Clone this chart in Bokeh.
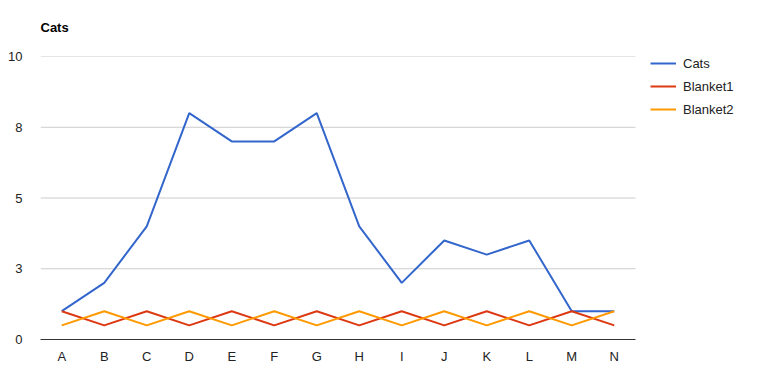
from bokeh.plotting import figure
from bokeh.models import FixedTicker, Legend, LegendItem, Range1d
from bokeh.embed import file_html
from bokeh.resources import INLINE

categories = ["A", "B", "C", "D", "E", "F", "G", "H", "I", "J", "K", "L", "M", "N"]
cats = [1, 2, 4, 8, 7, 7, 8, 4, 2, 3.5, 3, 3.5, 1, 1]
blanket1 = [1, 0.5, 1, 0.5, 1, 0.5, 1, 0.5, 1, 0.5, 1, 0.5, 1, 0.5]
blanket2 = [0.5, 1, 0.5, 1, 0.5, 1, 0.5, 1, 0.5, 1, 0.5, 1, 0.5, 1]
y_ticks = [0, 2.5, 5, 7.5, 10]
y_tick_labels = ["0", "3", "5", "8", "10"]

FONT = "Liberation Sans"
W, H = 764, 390
LEFT, TOP, BOTTOM = 40, 56, 51
PLOT_W = 595  # width of the chart area (gridlines)

n = len(categories)
xs = list(range(n))
frame_w = W - LEFT
x_end = -0.5 + n * frame_w / PLOT_W

p = figure(width=W, height=H, x_range=Range1d(-0.5, x_end), y_range=(0, 10),
           output_backend="svg", toolbar_location=None, title="Cats",
           min_border_left=LEFT, min_border_right=0, min_border_top=TOP,
           min_border_bottom=BOTTOM)
p.outline_line_color = None
p.background_fill_color = "white"
p.border_fill_color = "white"

p.title.text_font = FONT
p.title.text_font_size = "13px"
p.title.text_font_style = "bold"
p.title.text_color = "#000000"
p.title.align = "left"
p.title.vertical_align = "top"
p.title.standoff = 39
p.title.offset = 0

p.xgrid.grid_line_color = None
p.ygrid.grid_line_color = None

# horizontal gridlines limited to the chart area
grid_vals = [t for t in y_ticks if t != 0]
p.segment(x0=[-0.5] * len(grid_vals), x1=[n - 0.5] * len(grid_vals),
          y0=grid_vals, y1=grid_vals, line_color="#cccccc", line_width=1)

p.yaxis.ticker = FixedTicker(ticks=y_ticks)
p.yaxis.major_label_overrides = {t: l for t, l in zip(y_ticks, y_tick_labels)}
p.yaxis.axis_line_color = None
p.yaxis.major_tick_line_color = None
p.yaxis.minor_tick_line_color = None
p.yaxis.major_label_standoff = 12
p.yaxis.major_label_text_font = FONT
p.yaxis.major_label_text_font_size = "13px"
p.yaxis.major_label_text_color = "#222222"

p.xaxis.ticker = FixedTicker(ticks=xs)
p.xaxis.major_label_overrides = {i: c for i, c in zip(xs, categories)}
p.xaxis.bounds = (-0.5, n - 0.5)
p.xaxis.axis_line_color = "#333333"
p.xaxis.axis_line_width = 1
p.xaxis.major_tick_line_color = None
p.xaxis.minor_tick_line_color = None
p.xaxis.major_label_standoff = 3
p.xaxis.major_label_text_font = FONT
p.xaxis.major_label_text_font_size = "13px"
p.xaxis.major_label_text_color = "#222222"

r1 = p.line(xs, cats, line_color="#3366cc", line_width=2)
r2 = p.line(xs, blanket1, line_color="#dc3912", line_width=2)
r3 = p.line(xs, blanket2, line_color="#ff9900", line_width=2)

legend = Legend(items=[LegendItem(label="Cats", renderers=[r1]),
                       LegendItem(label="Blanket1", renderers=[r2]),
                       LegendItem(label="Blanket2", renderers=[r3])],
                location=(PLOT_W + 15, H - TOP - BOTTOM + 1 - 62))
legend.padding = 0
legend.margin = 0
legend.spacing = 7
legend.glyph_width = 26
legend.glyph_height = 16
legend.label_height = 16
legend.label_standoff = 7
legend.border_line_color = None
legend.background_fill_alpha = 0
legend.label_text_font = FONT
legend.label_text_font_size = "13px"
legend.label_text_color = "#222222"
p.add_layout(legend)

open("out.html", "w").write(file_html(p, INLINE))
